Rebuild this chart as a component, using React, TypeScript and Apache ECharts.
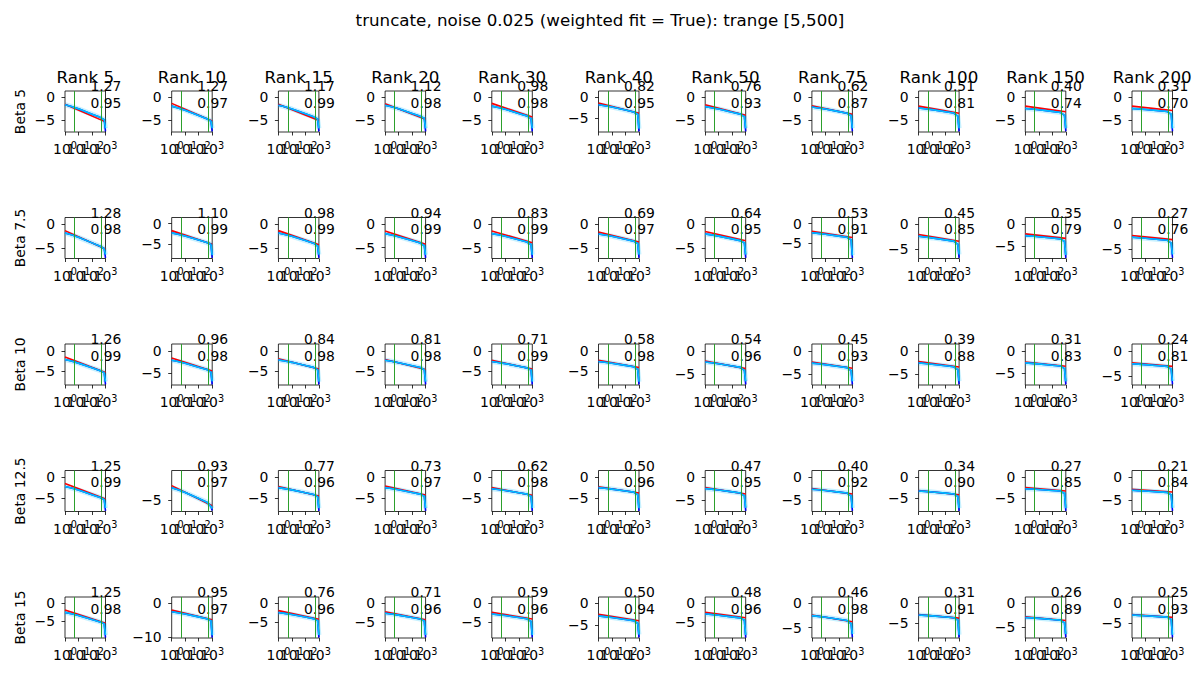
import React, { useEffect, useRef } from 'react';
import * as echarts from 'echarts';

const FONT = 'DejaVu Sans';
const suptitle = 'truncate, noise 0.025 (weighted fit = True): trange [5,500]';
const ranks = ['5', '10', '15', '20', '30', '40', '50', '75', '100', '150', '200'];
const betas = ['5', '7.5', '10', '12.5', '15'];
const xs = [1, 3, 10, 100, 400, 800, 1000];
const xTickValues = [1, 10, 100, 1000];
const xLabelsEven = [1, 100];
const xLabelsOdd = [10, 1000];
const trange = [5, 500];

const slopes = [
  [1.27, 1.27, 1.17, 1.12, 0.98, 0.82, 0.76, 0.62, 0.51, 0.40, 0.31],
  [1.28, 1.10, 0.98, 0.94, 0.83, 0.69, 0.64, 0.53, 0.45, 0.35, 0.27],
  [1.26, 0.96, 0.84, 0.81, 0.71, 0.58, 0.54, 0.45, 0.39, 0.31, 0.24],
  [1.25, 0.93, 0.77, 0.73, 0.62, 0.50, 0.47, 0.40, 0.34, 0.27, 0.21],
  [1.25, 0.95, 0.76, 0.71, 0.59, 0.50, 0.48, 0.46, 0.31, 0.26, 0.25],
];
const r2 = [
  [0.95, 0.97, 0.99, 0.98, 0.98, 0.95, 0.93, 0.87, 0.81, 0.74, 0.70],
  [0.98, 0.99, 0.99, 0.99, 0.99, 0.97, 0.95, 0.91, 0.85, 0.79, 0.76],
  [0.99, 0.98, 0.98, 0.98, 0.99, 0.98, 0.96, 0.93, 0.88, 0.83, 0.81],
  [0.99, 0.97, 0.96, 0.97, 0.98, 0.96, 0.95, 0.92, 0.90, 0.85, 0.84],
  [0.98, 0.97, 0.96, 0.96, 0.96, 0.94, 0.96, 0.98, 0.91, 0.89, 0.93],
];
const redStart = [
  [-1.5, -1.3, -1.5, -1.4, -1.3, -1.4, -1.6, -1.8, -1.9, -1.9, -1.9],
  [-1.3, -1.7, -1.3, -1.45, -1.45, -1.6, -1.5, -1.9, -2.05, -2.2, -2.25],
  [-1.5, -1.6, -1.9, -2.1, -2.3, -2.3, -2.2, -2.4, -2.3, -2.5, -2.4],
  [-1.5, -3.0, -2.2, -2.1, -2.5, -2.3, -2.3, -2.5, -3.2, -2.5, -2.65],
  [-1.9, -2.0, -2.0, -2.3, -2.45, -2.5, -2.45, -2.4, -2.85, -2.85, -2.85],
];
const redEnd = [
  [-5.31, -5.11, -5.01, -4.76, -4.24, -3.86, -3.88, -3.66, -3.43, -3.1, -2.83],
  [-5.14, -5.0, -4.24, -4.27, -3.94, -3.67, -3.42, -3.49, -3.4, -3.25, -3.06],
  [-5.28, -4.48, -4.42, -4.53, -4.43, -4.04, -3.82, -3.75, -3.47, -3.43, -3.12],
  [-5.25, -5.79, -4.51, -4.29, -4.36, -3.8, -3.71, -3.7, -4.22, -3.31, -3.28],
  [-5.65, -4.85, -4.28, -4.43, -4.22, -4.0, -3.89, -3.78, -3.78, -3.63, -3.6],
];
const cyanBeta5 = [
  [-1.6, -1.98, -2.49, -3.63, -4.33, -4.81, -6.7],
  [-1.9, -2.28, -2.79, -3.93, -4.63, -5.11, -6.7],
  [-1.7, -2.05, -2.52, -3.57, -4.22, -4.67, -6.7],
  [-1.7, -2.04, -2.48, -3.49, -4.11, -4.54, -6.7],
  [-1.9, -2.19, -2.59, -3.47, -4.01, -4.6, -6.7],
  [-1.8, -2.05, -2.37, -3.11, -3.56, -4.11, -7.6],
  [-2.0, -2.23, -2.53, -3.22, -3.63, -4.16, -6.7],
  [-2.1, -2.29, -2.53, -3.09, -3.43, -3.92, -6.7],
  [-2.3, -2.45, -2.66, -3.12, -3.4, -4.05, -6.7],
  [-2.4, -2.52, -2.68, -3.04, -3.26, -3.88, -6.7],
  [-2.4, -2.49, -2.62, -2.9, -3.07, -3.66, -6.7],
];
const cyanBeta7p5 = [
  [-1.8, -2.18, -2.7, -3.85, -4.55, -5.04, -6.3],
  [-2.25, -2.58, -3.02, -4.01, -4.62, -5.05, -7.7],
  [-1.8, -2.09, -2.49, -3.37, -3.91, -4.5, -6.3],
  [-2.0, -2.28, -2.66, -3.5, -4.02, -4.6, -6.55],
  [-2.0, -2.25, -2.58, -3.33, -3.79, -4.33, -6.55],
  [-2.0, -2.21, -2.48, -3.1, -3.48, -3.99, -6.3],
  [-2.0, -2.19, -2.45, -3.02, -3.38, -3.87, -6.3],
  [-2.3, -2.46, -2.67, -3.15, -3.44, -4.1, -8.0],
  [-2.4, -2.54, -2.72, -3.12, -3.37, -4.0, -6.05],
  [-2.6, -2.71, -2.85, -3.16, -3.35, -3.96, -7.1],
  [-2.6, -2.68, -2.79, -3.03, -3.18, -3.76, -6.05],
];
const cyanBeta10 = [
  [-2.1, -2.48, -2.98, -4.12, -4.81, -5.29, -7.5],
  [-2.1, -2.39, -2.77, -3.64, -4.16, -4.75, -6.8],
  [-2.2, -2.45, -2.79, -3.54, -4.01, -4.56, -7.5],
  [-2.3, -2.54, -2.87, -3.6, -4.04, -4.59, -7.5],
  [-2.6, -2.81, -3.1, -3.74, -4.13, -4.64, -7.5],
  [-2.6, -2.77, -3.01, -3.53, -3.85, -4.52, -7.5],
  [-2.4, -2.56, -2.78, -3.26, -3.56, -4.22, -6.55],
  [-2.65, -2.79, -2.97, -3.37, -3.62, -4.25, -6.55],
  [-2.6, -2.72, -2.87, -3.22, -3.44, -4.06, -6.55],
  [-2.7, -2.79, -2.92, -3.2, -3.37, -3.96, -6.8],
  [-2.6, -2.67, -2.77, -2.98, -3.12, -3.69, -6.05],
];
const cyanBeta12p5 = [
  [-2.2, -2.58, -3.08, -4.2, -4.89, -5.36, -7.5],
  [-3.3, -3.58, -3.95, -4.79, -5.3, -5.88, -6.2],
  [-2.5, -2.73, -3.04, -3.73, -4.16, -4.69, -7.5],
  [-2.5, -2.72, -3.01, -3.67, -4.07, -4.59, -7.5],
  [-2.75, -2.94, -3.18, -3.74, -4.08, -4.57, -7.5],
  [-2.5, -2.65, -2.85, -3.3, -3.58, -4.23, -7.5],
  [-2.5, -2.64, -2.83, -3.25, -3.51, -4.15, -6.8],
  [-2.65, -2.77, -2.93, -3.29, -3.51, -4.13, -6.8],
  [-3.3, -3.4, -3.54, -3.84, -4.03, -4.63, -7.5],
  [-2.75, -2.83, -2.94, -3.18, -3.33, -3.91, -7.5],
  [-2.9, -2.96, -3.05, -3.24, -3.35, -3.92, -6.8],
];
const cyanBeta15 = [
  [-2.6, -2.98, -3.48, -4.6, -5.29, -5.76, -9.0],
  [-2.5, -2.79, -3.17, -4.02, -4.54, -5.13, -9.4],
  [-2.5, -2.73, -3.03, -3.72, -4.13, -4.66, -8.5],
  [-2.7, -2.91, -3.2, -3.84, -4.23, -4.74, -8.5],
  [-2.9, -3.08, -3.31, -3.84, -4.17, -4.85, -8.5],
  [-2.9, -3.05, -3.25, -3.7, -3.98, -4.63, -7.2],
  [-2.9, -3.04, -3.24, -3.67, -3.93, -4.58, -8.5],
  [-2.55, -2.69, -2.87, -3.29, -3.54, -4.18, -6.3],
  [-3.0, -3.09, -3.22, -3.5, -3.67, -4.26, -8.0],
  [-3.0, -3.08, -3.18, -3.42, -3.56, -4.14, -6.5],
  [-3.0, -3.08, -3.18, -3.4, -3.54, -4.11, -8.0],
];
const cyanCurves = [cyanBeta5, cyanBeta7p5, cyanBeta10, cyanBeta12p5, cyanBeta15];
const blueEnd = [
  [-7.35, -7.35, -7.35, -7.35, -7.35, -8.25, -7.35, -7.35, -7.35, -7.35, -7.35],
  [-6.95, -8.35, -6.95, -7.2, -7.2, -6.95, -6.95, -8.65, -6.7, -7.75, -6.7],
  [-8.15, -7.45, -8.15, -8.15, -8.15, -8.15, -7.2, -7.2, -7.2, -7.45, -6.7],
  [-8.15, -6.45, -8.15, -8.15, -8.15, -8.15, -7.45, -7.45, -8.15, -8.15, -7.45],
  [-9.65, -10.05, -9.15, -9.15, -9.15, -7.85, -9.15, -6.95, -8.65, -7.15, -8.65],
];
const yMin = [
  [-7.5, -7.5, -7.5, -7.5, -7.5, -8.4, -7.5, -7.5, -7.5, -7.5, -7.5],
  [-7.1, -8.5, -7.1, -7.35, -7.35, -7.1, -7.1, -8.8, -6.85, -7.9, -6.85],
  [-8.3, -7.6, -8.3, -8.3, -8.3, -8.3, -7.35, -7.35, -7.35, -7.6, -6.85],
  [-8.3, -6.6, -8.3, -8.3, -8.3, -8.3, -7.6, -7.6, -8.3, -8.3, -7.6],
  [-9.8, -10.2, -9.3, -9.3, -9.3, -8.0, -9.3, -7.1, -8.8, -7.3, -8.8],
];
const yMax = [
  [1.38, 1.38, 1.38, 1.38, 1.38, 1.5, 1.38, 1.38, 1.38, 1.38, 1.38],
  [1.43, 1.5, 1.43, 1.47, 1.47, 1.43, 1.43, 1.55, 1.37, 1.59, 1.37],
  [1.67, 1.5, 1.67, 1.67, 1.67, 1.67, 1.47, 1.47, 1.47, 1.5, 1.37],
  [1.67, -0.9, 1.67, 1.67, 1.67, 1.67, 1.5, 1.5, 1.67, 1.67, 1.5],
  [1.73, 1.8, 1.64, 1.64, 1.64, 1.5, 1.64, 1.25, 1.55, 1.29, 1.55],
];
const yStep = [
  [5, 5, 5, 5, 5, 5, 5, 5, 5, 5, 5],
  [5, 5, 5, 5, 5, 5, 5, 5, 5, 5, 5],
  [5, 5, 5, 5, 5, 5, 5, 5, 5, 5, 5],
  [5, 5, 5, 5, 5, 5, 5, 5, 5, 5, 5],
  [5, 10, 5, 5, 5, 5, 5, 5, 5, 5, 5],
];
const yTickCandidates = [0, -5, -10];

// layout
const LEFT0 = 65;
const DX = 106.7;
const W = 40.5;
const TOP0 = 91;
const DY = 126.5;
const H = 41;
const FS = 13.9;

function fmtY(v: number) {
  return v < 0 ? '\u2212' + Math.abs(v) : String(v);
}

const xLabelStyle = {
  margin: 8,
  hideOverlap: false,
  showMinLabel: true,
  showMaxLabel: true,
  formatter: (v: number) => `{b|10}{s|${Math.round(Math.log10(v))}}`,
  rich: {
    b: { fontSize: FS, lineHeight: 18, fontFamily: FONT, color: '#000' },
    s: { fontSize: 9.7, lineHeight: 8, verticalAlign: 'top', fontFamily: FONT, color: '#000' },
  },
};

function buildOption() {
  const grid: any[] = [];
  const xAxis: any[] = [];
  const yAxis: any[] = [];
  const series: any[] = [];
  const graphic: any[] = [];

  graphic.push({
    type: 'text', x: 600, y: 20,
    style: { text: suptitle, fontSize: 16.7, fontFamily: FONT, fill: '#000', align: 'center', verticalAlign: 'middle' },
  });

  betas.forEach((beta, r) => {
    const top = TOP0 + r * DY;
    graphic.push({
      type: 'text', x: 20, y: top + H / 2, rotation: Math.PI / 2,
      style: { text: `Beta ${beta}`, fontSize: FS, fontFamily: FONT, fill: '#000', align: 'center', verticalAlign: 'middle' },
    });
    ranks.forEach((rank, c) => {
      const k = r * ranks.length + c;
      const left = LEFT0 + c * DX;
      if (r === 0) {
        graphic.push({
          type: 'text', x: left + W / 2, y: top - 13.7,
          style: { text: `Rank ${rank}`, fontSize: 16.7, fontFamily: FONT, fill: '#000', align: 'center', verticalAlign: 'middle' },
        });
      }
      graphic.push({
        type: 'text', x: left + 25.5, y: top - 4.7,
        style: { text: slopes[r][c].toFixed(2), fontSize: FS, fontFamily: FONT, fill: '#000', align: 'left', verticalAlign: 'middle' },
      });
      graphic.push({
        type: 'text', x: left + 25.5, y: top + 11.7,
        style: { text: r2[r][c].toFixed(2), fontSize: FS, fontFamily: FONT, fill: '#000', align: 'left', verticalAlign: 'middle' },
      });

      grid.push({
        left, top, width: W, height: H, show: true,
        borderColor: '#000', borderWidth: 0.8, backgroundColor: 'transparent',
        containLabel: false,
      });
      // primary x axis: ticks at every decade, labels 10^0 and 10^2
      const xMain = xAxis.length;
      xAxis.push({
        gridIndex: k, type: 'log', logBase: 10, min: 1, max: 1000, position: 'bottom',
        axisLine: { show: false, onZero: false },
        splitLine: { show: false },
        minorTick: { show: false },
        minorSplitLine: { show: false },
        axisTick: { show: true, length: 3.5, customValues: xTickValues, lineStyle: { color: '#000', width: 0.8 } },
        axisLabel: { ...xLabelStyle, customValues: xLabelsEven },
      });
      // companion x axis on the same edge: labels 10^1 and 10^3
      xAxis.push({
        gridIndex: k, type: 'log', logBase: 10, min: 1, max: 1000, position: 'bottom', offset: 0,
        axisLine: { show: false, onZero: false },
        splitLine: { show: false },
        minorTick: { show: false },
        minorSplitLine: { show: false },
        axisTick: { show: false },
        axisLabel: { ...xLabelStyle, customValues: xLabelsOdd },
      });
      const lo = yMin[r][c];
      const hi = yMax[r][c];
      const step = yStep[r][c];
      const ticks = yTickCandidates.filter((v) => v % step === 0 && v >= lo && v <= hi);
      yAxis.push({
        gridIndex: k, type: 'value', min: lo, max: hi, position: 'left',
        axisLine: { show: false, onZero: false },
        splitLine: { show: false },
        axisTick: { show: true, length: 3.5, customValues: ticks, lineStyle: { color: '#000', width: 0.8 } },
        axisLabel: {
          show: true, margin: 10, customValues: ticks, formatter: fmtY,
          fontSize: FS, fontFamily: FONT, color: '#000',
        },
      });

      const cy = cyanCurves[r][c];
      const cyanData = xs.map((x, i) => [x, cy[i]]);
      const blueData = xs.map((x, i) => [x, i === xs.length - 1 ? blueEnd[r][c] : cy[i]]);
      series.push({
        type: 'line', xAxisIndex: xMain, yAxisIndex: k, data: cyanData, symbol: 'none', silent: true,
        lineStyle: { width: 5, color: 'rgba(0,191,255,0.22)' },
        z: 1,
        markLine: {
          silent: true, symbol: ['none', 'none'], label: { show: false },
          lineStyle: { color: '#2ca02c', width: 1, type: 'solid' },
          data: trange.map((v) => ({ xAxis: v })),
        },
      });
      series.push({
        type: 'line', xAxisIndex: xMain, yAxisIndex: k, symbol: 'none', silent: true, z: 2,
        data: [[1, redStart[r][c]], [1000, redEnd[r][c]]],
        lineStyle: { width: 1.6, color: '#ff0000' },
      });
      series.push({
        type: 'line', xAxisIndex: xMain, yAxisIndex: k, symbol: 'none', silent: true, z: 3,
        data: blueData, lineStyle: { width: 1.6, color: '#0000ff' },
      });
      series.push({
        type: 'line', xAxisIndex: xMain, yAxisIndex: k, symbol: 'none', silent: true, z: 4,
        data: cyanData, lineStyle: { width: 1.6, color: '#00bfff' },
      });
    });
  });

  return {
    animation: false,
    backgroundColor: '#ffffff',
    textStyle: { fontFamily: FONT },
    grid, xAxis, yAxis, series, graphic,
  };
}

export default function App() {
  const ref = useRef<HTMLDivElement>(null);
  useEffect(() => {
    if (!ref.current) return;
    const chart = echarts.init(ref.current, null, { renderer: 'svg' });
    chart.setOption(buildOption() as any);
    return () => chart.dispose();
  }, []);
  return (
    <div
      ref={ref}
      style={{ position: 'absolute', left: 0, top: 0, width: 1200, height: 700, background: '#fff' }}
    />
  );
}
